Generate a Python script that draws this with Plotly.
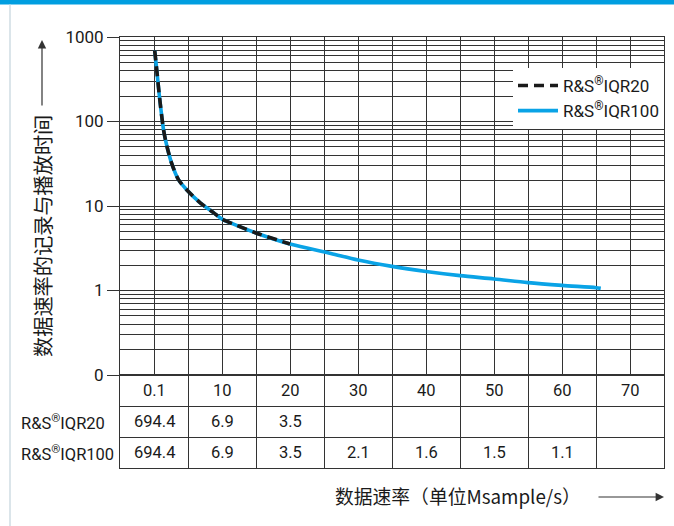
import plotly.graph_objects as go

# ---------------- data ----------------
rates = [0.1, 10, 20, 30, 40, 50, 60, 70]
rate_labels = ["0.1", "10", "20", "30", "40", "50", "60", "70"]
iqr20_table = ["694.4", "6.9", "3.5", "", "", "", "", ""]
iqr100_table = ["694.4", "6.9", "3.5", "2.1", "1.6", "1.5", "1.1", ""]

iqr100_x = [0.1, 0.4, 0.8, 1.4, 1.9, 2.6, 3.6, 4.8, 6.8, 8.7, 10, 11.7, 15, 20,
            26, 30, 35, 40, 45, 50, 55, 60, 65, 65.7]
iqr100_y = [694.4, 410, 198, 80, 51, 32, 20.5, 15.6, 10.9, 8.4, 7.0, 6.1, 4.8, 3.55,
            2.75, 2.3, 1.93, 1.68, 1.5, 1.37, 1.24, 1.15, 1.08, 1.06]
iqr20_x = [0.1, 0.4, 0.8, 1.4, 1.9, 2.6, 3.6, 4.8, 6.8, 8.7, 10, 11.7, 15, 20]
iqr20_y = [694.4, 410, 198, 80, 51, 32, 20.5, 15.6, 10.9, 8.4, 7.0, 6.1, 4.8, 3.55]

y_tickvals = [0.1, 1, 10, 100, 1000]
y_ticktext = ["0", "1", "10", "100", "1000"]
row_names = ["R&S<sup>®</sup>IQR20", "R&S<sup>®</sup>IQR100"]
y_title = "数据速率的记录与播放时间"
x_title = "数据速率（单位Msample/s）"

# ---------------- style ----------------
FONT = "Roboto, Liberation Sans, sans-serif"
CJK = "Noto Sans CJK SC, sans-serif"
FS = 16.5
GRID = "#333333"
BLUE = "#0aa3e6"
BLACK = "#1a1a1a"

W, H = 674, 526
ML, MR, MT, MB = 120, 10, 37, 58
PW, PH = W - ML - MR, H - MT - MB


def px(xpix):
    return (xpix - ML) / PW


def py(ypix):
    return (H - MB - ypix) / PH


main_bottom = py(375)

fig = go.Figure()
fig.add_trace(go.Scatter(x=iqr100_x, y=iqr100_y, mode="lines", name=row_names[1],
                         line=dict(color=BLUE, width=3.6, shape="spline", smoothing=0.8),
                         hoverinfo="skip"))
fig.add_trace(go.Scatter(x=iqr20_x, y=iqr20_y, mode="lines", name=row_names[0],
                         line=dict(color=BLACK, width=3.6, dash="10px,6px", shape="spline",
                                   smoothing=0.8),
                         hoverinfo="skip"))

minor_vals = [m * 10 ** e for e in range(-1, 3) for m in range(2, 10)]

fig.update_layout(
    width=W, height=H,
    margin=dict(l=ML, r=MR, t=MT, b=MB, autoexpand=False),
    paper_bgcolor="white", plot_bgcolor="white",
    font=dict(family=FONT, size=FS, color="#1a1a1a"),
    showlegend=True,
    legend=dict(x=1, xanchor="right", y=py(68), yanchor="top", bgcolor="white",
                borderwidth=0, traceorder="reversed", font=dict(size=FS + 0.5),
                tracegroupgap=0, itemwidth=40),
    xaxis=dict(range=[-5, 75], domain=[0, 1], anchor="y", tick0=0, dtick=5,
               showgrid=True, gridcolor=GRID, gridwidth=1, showticklabels=False,
               ticks="", zeroline=False, showline=True, mirror=True, linecolor=GRID,
               linewidth=1, automargin=False),
    yaxis=dict(type="log", range=[-1, 3], domain=[main_bottom, 1], anchor="x",
               tickvals=y_tickvals, ticktext=y_ticktext, ticks="outside", ticklen=12,
               tickcolor=GRID, tickwidth=1, showgrid=True, gridcolor=GRID, gridwidth=1,
               minor=dict(tickvals=minor_vals, showgrid=True, gridcolor=GRID,
                          gridwidth=1, ticks=""),
               showline=True, mirror=True, linecolor=GRID, linewidth=1,
               zeroline=False, tickfont=dict(size=FS + 0.5), automargin=False),
    xaxis2=dict(range=[-5, 75], matches="x", domain=[0, 1], anchor="y2", tick0=-5,
                dtick=10, showgrid=True, gridcolor=GRID, gridwidth=1,
                showticklabels=False, ticks="", zeroline=False, showline=True,
                mirror=True, linecolor=GRID, linewidth=1, automargin=False),
    yaxis2=dict(range=[0, 3], domain=[0, main_bottom], anchor="x2", tickvals=[0, 1, 2, 3],
                showgrid=True, gridcolor=GRID, gridwidth=1, showticklabels=False,
                ticks="", zeroline=False, showline=True, mirror=True, linecolor=GRID,
                linewidth=1, automargin=False),
)

ann = []
# table header and rows
for xv, lab, v20, v100 in zip(rates, rate_labels, iqr20_table, iqr100_table):
    for yv, txt in ((2.5, lab), (1.5, v20), (0.5, v100)):
        if txt:
            ann.append(dict(x=xv, y=yv, xref="x2", yref="y2", text=txt, showarrow=False,
                            xanchor="center", yanchor="middle", font=dict(size=FS)))
for yv, name in zip([1.5, 0.5], row_names):
    ann.append(dict(x=px(19), y=yv, xref="paper", yref="y2", text=name, showarrow=False,
                    xanchor="left", yanchor="middle", font=dict(size=FS)))

# axis titles
ann.append(dict(x=px(42), y=py(236), xref="paper", yref="paper", text=y_title,
                textangle=-90, showarrow=False, xanchor="center", yanchor="middle",
                font=dict(family=CJK, size=20.2, color="#1a1a1a")))
ann.append(dict(x=px(458), y=py(495), xref="paper", yref="paper", text=x_title,
                showarrow=False, xanchor="center", yanchor="middle",
                font=dict(family=CJK, size=18.8, color="#1a1a1a")))
# arrows
ann.append(dict(x=px(42), y=py(40), xref="paper", yref="paper", text="", showarrow=True,
                ax=0, ay=67, arrowhead=2, arrowsize=1.4, arrowwidth=1.2,
                arrowcolor="#333333"))
ann.append(dict(x=px(664), y=py(497), xref="paper", yref="paper", text="", showarrow=True,
                ax=-67, ay=0, arrowhead=2, arrowsize=1.4, arrowwidth=1.2,
                arrowcolor="#333333"))
fig.update_layout(annotations=ann)

# page decoration: top blue bar and faint left rule
fig.update_layout(shapes=[
    dict(type="rect", xref="paper", yref="paper", x0=px(0), x1=px(W), y0=py(4.5),
         y1=py(0), fillcolor="#009ee0", line=dict(width=0), layer="above"),
    dict(type="line", xref="paper", yref="paper", x0=px(10), x1=px(10), y0=py(H),
         y1=py(4.5), line=dict(color="#cfdde3", width=1.5)),
])

fig.write_html("out.html", config={"displayModeBar": False},
               post_script="document.body.style.margin='0px';")
